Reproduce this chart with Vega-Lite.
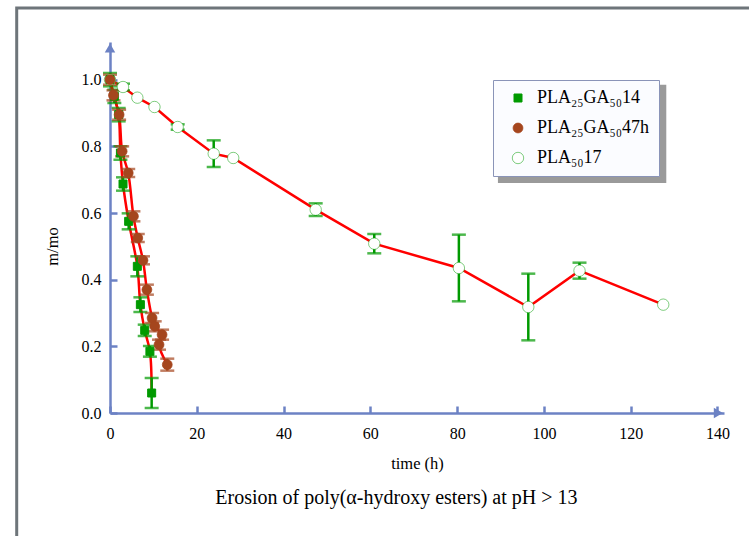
{
  "$schema": "https://vega.github.io/schema/vega-lite/v6.json",
  "autosize": "none",
  "width": 614,
  "height": 371,
  "padding": {"left": 110, "top": 42, "right": 25, "bottom": 123},
  "background": "white",
  "config": {
    "view": {"stroke": null},
    "axis": {"domainColor": "#6c82c4", "domainWidth": 2.5, "tickColor": "#6c82c4", "tickWidth": 2.5, "tickSize": -7, "grid": false, "labelFont": "Liberation Serif", "labelFontSize": 16, "labelColor": "black", "titleFont": "Liberation Serif", "titleFontSize": 16.5, "titleFontWeight": "normal", "titleColor": "black"}
  },
  "datasets": {
    "pts": [
      {"series": "PLA₅₀17", "t": 0, "m": 1.0, "e": 0},
      {"series": "PLA₅₀17", "t": 3.0, "m": 0.978, "e": 0.01},
      {"series": "PLA₅₀17", "t": 6.3, "m": 0.946, "e": 0},
      {"series": "PLA₅₀17", "t": 10.25, "m": 0.918, "e": 0},
      {"series": "PLA₅₀17", "t": 15.6, "m": 0.858, "e": 0.008},
      {"series": "PLA₅₀17", "t": 23.9, "m": 0.778, "e": 0.04},
      {"series": "PLA₅₀17", "t": 28.4, "m": 0.765, "e": 0},
      {"series": "PLA₅₀17", "t": 47.4, "m": 0.61, "e": 0.019},
      {"series": "PLA₅₀17", "t": 60.9, "m": 0.508, "e": 0.029},
      {"series": "PLA₅₀17", "t": 80.4, "m": 0.435, "e": 0.1},
      {"series": "PLA₅₀17", "t": 96.4, "m": 0.318, "e": 0.1},
      {"series": "PLA₅₀17", "t": 108.2, "m": 0.427, "e": 0.024},
      {"series": "PLA₅₀17", "t": 127.5, "m": 0.325, "e": 0},
      {"series": "PLA₂₅GA₅₀14", "t": 0, "m": 1.0, "e": 0.02},
      {"series": "PLA₂₅GA₅₀14", "t": 1.0, "m": 0.95, "e": 0.02},
      {"series": "PLA₂₅GA₅₀14", "t": 2.0, "m": 0.895, "e": 0.02},
      {"series": "PLA₂₅GA₅₀14", "t": 2.4, "m": 0.78, "e": 0.02},
      {"series": "PLA₂₅GA₅₀14", "t": 3.0, "m": 0.687, "e": 0.02},
      {"series": "PLA₂₅GA₅₀14", "t": 4.3, "m": 0.575, "e": 0.024},
      {"series": "PLA₂₅GA₅₀14", "t": 6.3, "m": 0.44, "e": 0.03},
      {"series": "PLA₂₅GA₅₀14", "t": 7.0, "m": 0.325, "e": 0.022},
      {"series": "PLA₂₅GA₅₀14", "t": 8.0, "m": 0.248, "e": 0.017},
      {"series": "PLA₂₅GA₅₀14", "t": 9.2, "m": 0.185, "e": 0.016},
      {"series": "PLA₂₅GA₅₀14", "t": 9.6, "m": 0.06, "e": 0.045},
      {"series": "PLA₂₅GA₅₀47h", "t": 0, "m": 1.0, "e": 0.015},
      {"series": "PLA₂₅GA₅₀47h", "t": 0.8, "m": 0.953, "e": 0.015},
      {"series": "PLA₂₅GA₅₀47h", "t": 2.1, "m": 0.895, "e": 0.015},
      {"series": "PLA₂₅GA₅₀47h", "t": 2.8, "m": 0.785, "e": 0.015},
      {"series": "PLA₂₅GA₅₀47h", "t": 4.2, "m": 0.72, "e": 0.012},
      {"series": "PLA₂₅GA₅₀47h", "t": 5.4, "m": 0.59, "e": 0.015},
      {"series": "PLA₂₅GA₅₀47h", "t": 6.4, "m": 0.525, "e": 0.012},
      {"series": "PLA₂₅GA₅₀47h", "t": 7.6, "m": 0.458, "e": 0.012},
      {"series": "PLA₂₅GA₅₀47h", "t": 8.5, "m": 0.37, "e": 0.015},
      {"series": "PLA₂₅GA₅₀47h", "t": 9.7, "m": 0.285, "e": 0.015},
      {"series": "PLA₂₅GA₅₀47h", "t": 10.3, "m": 0.26, "e": 0.015},
      {"series": "PLA₂₅GA₅₀47h", "t": 12.0, "m": 0.235, "e": 0.015},
      {"series": "PLA₂₅GA₅₀47h", "t": 11.3, "m": 0.205, "e": 0.015},
      {"series": "PLA₂₅GA₅₀47h", "t": 13.2, "m": 0.145, "e": 0.018}
    ],
    "frame": [{"t": -21.5, "t2": 160, "m": 1.215, "m2": -0.6}],
    "shadow": [{"t": 89.4, "t2": 128.2, "m": 0.985, "m2": 0.69}],
    "yarrow": [{"t": 0, "m": 1.095}],
    "xarrow": [{"t": 140.2, "m": 0}],
    "caption": [{"t": 66.0, "m": -0.254, "label": "Erosion of poly(α-hydroxy esters) at pH > 13"}]
  },
  "encoding": {
    "x": {"field": "t", "type": "quantitative", "scale": {"domain": [0, 141.5], "nice": false, "zero": false},
          "axis": {"values": [0, 20, 40, 60, 80, 100, 120, 140], "title": "time (h)", "labelPadding": 19, "titlePadding": 14, "labelFlush": false}},
    "y": {"field": "m", "type": "quantitative", "scale": {"domain": [0, 1.113], "nice": false, "zero": false},
          "axis": {"values": [0, 0.2, 0.4, 0.6, 0.8, 1.0], "format": ".1f", "title": "m/mo", "labelPadding": 16, "titleX": -58, "titleY": 204, "titleAlign": "center", "titleBaseline": "middle", "titleAngle": -90}}
  },
  "layer": [
    {
      "data": {"name": "frame"},
      "mark": {"type": "rect", "fill": null, "stroke": "#6e757a", "strokeWidth": 3, "clip": false},
      "encoding": {"x2": {"field": "t2"}, "y2": {"field": "m2"}}
    },
    {
      "data": {"name": "shadow"},
      "mark": {"type": "rect", "fill": "#9a9a9a", "clip": false},
      "encoding": {"x2": {"field": "t2"}, "y2": {"field": "m2"}}
    },
    {
      "data": {"name": "pts"},
      "transform": [{"filter": "datum.series != 'PLA₅₀17'"}],
      "mark": {"type": "line", "color": "#ff0000", "strokeWidth": 2.5, "interpolate": "catmull-rom", "clip": false},
      "encoding": {
        "detail": {"field": "series"},
        "order": {"field": "m", "sort": "descending"}
      }
    },
    {
      "data": {"name": "pts"},
      "transform": [{"filter": "datum.series == 'PLA₅₀17'"}],
      "mark": {"type": "line", "color": "#ff0000", "strokeWidth": 2.5},
      "encoding": {"order": {"field": "t", "sort": "ascending"}}
    },
    {
      "data": {"name": "pts"},
      "transform": [{"filter": "datum.e > 0 && datum.series != 'PLA₂₅GA₅₀47h'"}],
      "mark": {"type": "errorbar", "color": "#009a00", "thickness": 2.5, "ticks": {"size": 14, "thickness": 2.5}, "clip": false},
      "encoding": {"yError": {"field": "e"}}
    },
    {
      "data": {"name": "pts"},
      "transform": [{"filter": "datum.e > 0 && datum.series == 'PLA₂₅GA₅₀47h'"}],
      "mark": {"type": "errorbar", "color": "#a5461e", "thickness": 2.5, "ticks": {"size": 14, "thickness": 2.5}, "clip": false},
      "encoding": {"yError": {"field": "e"}}
    },
    {
      "data": {"name": "pts"},
      "mark": {"type": "point", "opacity": 1, "clip": false},
      "encoding": {
        "shape": {"field": "series", "type": "nominal", "scale": {"domain": ["PLA₂₅GA₅₀14", "PLA₂₅GA₅₀47h", "PLA₅₀17"], "range": ["square", "circle", "circle"]},
                  "legend": {"title": null, "orient": "none", "legendX": 383, "legendY": 38, "padding": 9, "symbolOffset": 7, "fillColor": "#fbfcff", "strokeColor": "#8a94b8", "labelFont": "Liberation Serif", "labelFontSize": 18, "labelColor": "black", "rowPadding": 12, "labelOffset": 10}},
        "fill": {"field": "series", "type": "nominal", "scale": {"domain": ["PLA₂₅GA₅₀14", "PLA₂₅GA₅₀47h", "PLA₅₀17"], "range": ["#009a00", "#a5461e", "#ffffff"]}},
        "stroke": {"field": "series", "type": "nominal", "scale": {"domain": ["PLA₂₅GA₅₀14", "PLA₂₅GA₅₀47h", "PLA₅₀17"], "range": ["#009a00", "#a5461e", "#009a00"]}},
        "size": {"field": "series", "type": "nominal", "scale": {"domain": ["PLA₂₅GA₅₀14", "PLA₂₅GA₅₀47h", "PLA₅₀17"], "range": [64, 130, 80]}},
        "strokeWidth": {"field": "series", "type": "nominal", "scale": {"domain": ["PLA₂₅GA₅₀14", "PLA₂₅GA₅₀47h", "PLA₅₀17"], "range": [1, 0.5, 3]}}
      }
    },
    {
      "data": {"name": "yarrow"},
      "mark": {"type": "point", "shape": "triangle-up", "filled": true, "color": "#6c82c4", "size": 110, "opacity": 1, "clip": false}
    },
    {
      "data": {"name": "xarrow"},
      "mark": {"type": "point", "shape": "triangle-right", "filled": true, "color": "#6c82c4", "size": 110, "opacity": 1, "clip": false}
    },
    {
      "data": {"name": "caption"},
      "mark": {"type": "text", "font": "Liberation Serif", "fontSize": 20, "color": "black", "align": "center", "baseline": "middle", "clip": false},
      "encoding": {"text": {"field": "label"}}
    }
  ]
}
